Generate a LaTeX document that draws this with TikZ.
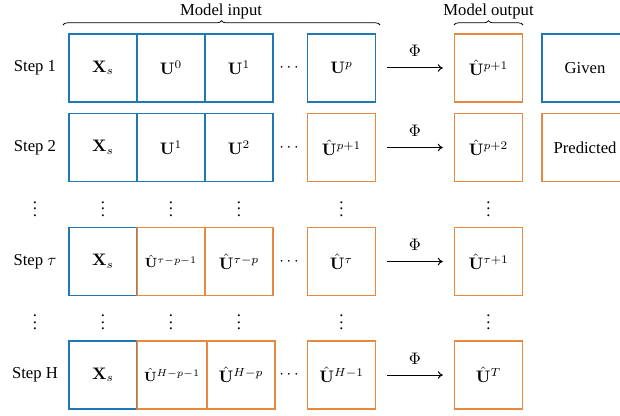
\documentclass[tikz,border=0pt]{standalone}
\usepackage[no-math]{fontspec}
\setmainfont{Liberation Serif}
\usetikzlibrary{decorations.pathreplacing,arrows.meta}
\definecolor{cblue}{HTML}{1F77B4}
\definecolor{corange}{HTML}{E9883F}
\colorlet{cmix}{cblue!40!corange}
\tikzset{
  cell/.style={draw, line width=0.8pt, minimum width=40.8pt, minimum height=40.8pt, inner sep=0pt, anchor=center},
  given/.style={cell, draw=cblue},
  pred/.style={cell, draw=corange},
  arr/.style={-{To[length=3pt,width=4.5pt]}, line width=0.6pt, shorten <=6.6pt, shorten >=6.6pt},
  brc/.style={decorate, decoration={brace, amplitude=2.6pt}, line width=0.45pt},
  lbl/.style={inner sep=1pt},
  phi/.style={midway, above=6.3pt, inner sep=0pt}
}
\begin{document}
\begin{tikzpicture}[x=0.6pt,y=-0.6pt]
\useasboundingbox (0,0) rectangle (620,415);
\clip (0,0) rectangle (620,415);

% headers
\node[lbl] (min) at (221,11) {Model input};
\node[lbl] (mout) at (488.5,11) {Model output};
\coordinate (bi1) at (63,25);
\coordinate (bi2) at (380,25);
\coordinate (bo1) at (454,25);
\coordinate (bo2) at (523,25);
\draw[brc] (bi1) -- (bi2);
\draw[brc] (bo1) -- (bo2);

% Row 1
\node[lbl] (s1) at (35,68) {Step 1};
\node[given] (a1) at (103,68) {$\mathbf{X}_s$};
\node[given] (a2) at (171,68) {$\mathbf{U}^0$};
\node[given] (a3) at (239,68) {$\mathbf{U}^1$};
\node (ad) at (289,68) {$\cdots$};
\node[given] (a4) at (341.5,68) {$\mathbf{U}^p$};
\node[pred] (a5) at (488.5,68) {$\hat{\mathbf{U}}^{p+1}$};
\node[given, minimum width=51.6pt] (given) at (585,68) {Given};
\draw[arr] (a4) -- (a5) node[phi] {$\Phi$};

% Row 2
\node[lbl] (s2) at (35,147.5) {Step 2};
\node[given] (b1) at (103,147.5) {$\mathbf{X}_s$};
\node[given] (b2) at (171,147.5) {$\mathbf{U}^1$};
\node[given] (b3) at (239,147.5) {$\mathbf{U}^2$};
\node (bd) at (289,147.5) {$\cdots$};
\node[pred] (b4) at (341.5,147.5) {$\hat{\mathbf{U}}^{p+1}$};
\node[pred] (b5) at (488.5,147.5) {$\hat{\mathbf{U}}^{p+2}$};
\node[pred, minimum width=51.6pt] (predicted) at (585,147.5) {Predicted};
\draw[arr] (b4) -- (b5) node[phi] {$\Phi$};

% vdots row 1
\foreach \x/\n in {35/v1,103/v2,171/v3,239/v4,341.5/v5,488.5/v6}
  \node[inner sep=0pt] (\n) at (\x,204) {$\vdots$};

% Row tau
\node[lbl] (st) at (35,261.5) {Step $\tau$};
\node[given] (c1) at (103,261.5) {$\mathbf{X}_s$};
\node[pred] (c2) at (171,261.5) {\footnotesize$\hat{\mathbf{U}}^{\tau-p-1}$};
\node[pred] (c3) at (239,261.5) {$\hat{\mathbf{U}}^{\tau-p}$};
\node (cd) at (289,261.5) {$\cdots$};
\node[pred] (c4) at (341.5,261.5) {$\hat{\mathbf{U}}^{\tau}$};
\node[pred] (c5) at (488.5,261.5) {$\hat{\mathbf{U}}^{\tau+1}$};
\draw[line width=0.8pt, cmix] (c2.north west) -- (c2.south west);
\draw[arr] (c4) -- (c5) node[phi] {$\Phi$};

% vdots row 2
\foreach \x/\n in {35/w1,103/w2,171/w3,239/w4,341.5/w5,488.5/w6}
  \node[inner sep=0pt] (\n) at (\x,317.5) {$\vdots$};

% Row H
\node[lbl] (sh) at (35,375) {Step H};
\node[given] (d1) at (103,375) {$\mathbf{X}_s$};
\node[pred, minimum width=42pt] (d2) at (172,375) {\footnotesize$\hat{\mathbf{U}}^{H-p-1}$};
\node[pred] (d3) at (241,375) {$\hat{\mathbf{U}}^{H-p}$};
\node (dd) at (289,375) {$\cdots$};
\node[pred] (d4) at (341.5,375) {$\hat{\mathbf{U}}^{H-1}$};
\node[pred] (d5) at (488.5,375) {$\hat{\mathbf{U}}^{T}$};
\draw[line width=0.8pt, cmix] (d2.north west) -- (d2.south west);
\draw[arr] (d4) -- (d5) node[phi] {$\Phi$};
\end{tikzpicture}
\end{document}
